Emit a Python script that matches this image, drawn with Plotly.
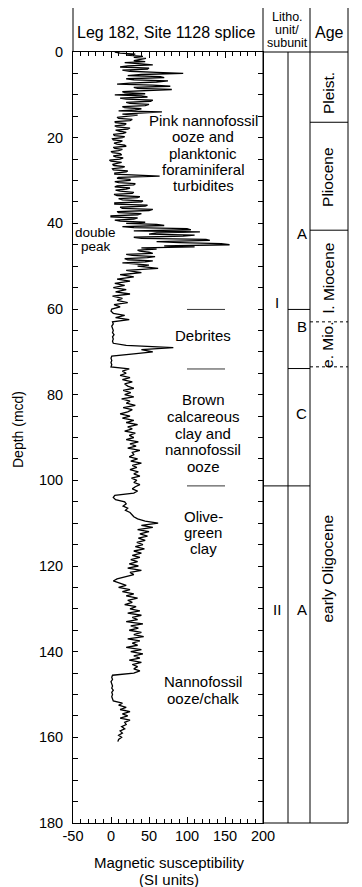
import plotly.graph_objects as go

# ---------------- data ----------------
# upper splice (0-50 mcd) read at 0.25 m, lower splice (50-161 mcd) at 0.5 m
UPPER_STEP = 0.25
LOWER_START = 50.0
LOWER_STEP = 0.5
ms_upper = [
    5, 12, 32, 20, 42, 30, 46, 35, 30, 45,        # 0-2.5
    18, 40, 55, 22, 12, 50, 48, 15, 25, 60,       # 2.5-5
    95, 40, 22, 65, 70, 20, 30, 75, 60, 25,       # 5-7.5
    8, 55, 78, 30, 35, 80, 52, 15, 18, 45,        # 7.5-10
    5, 40, 48, 12, 20, 55, 52, 20, 25, 50,        # 10-12.5
    45, 15, 18, 40, 32, 10, 67, 30, 15, 35,       # 12.5-15
    22, 8, 10, 28, 25, 5, 6, 20, 18, 5,           # 15-17.5
    8, 25, 22, 6, 12, 20, 16, 3, 5, 18,           # 17.5-20
    15, 2, 3, 15, 12, 4, 8, 18, 20, 3,            # 20-22.5
    5, 15, 10, 0, 2, 12, 14, 3, 6, 16,            # 22.5-25
    12, -2, 0, 14, 8, 2, 4, 18, 15, 2,            # 25-27.5
    3, 22, 20, 5, 5, 30, 64, 10, 8, 25,           # 27.5-30
    25, 5, 10, 32, 30, 8, 5, 25, 20, 6,           # 30-32.5
    12, 30, 28, 4, 8, 38, 35, 10, 15, 42,         # 32.5-35
    40, 5, 5, 48, 45, 12, 15, 55, 50, 8,          # 35-37.5
    10, 40, 35, 0, 0, 35, 30, 5, 12, 45,          # 37.5-40
    20, 60, 70, 15, 30, 100, 105, 30, 117, 60,    # 40-42.5
    50, 110, 95, 30, 40, 125, 130, 60, 90, 145,   # 42.5-45
    156, 70, 110, 40, 60, 35, 38, 50, 55, 20,     # 45-47.5
    28, 58, 48, 18, 22, 55, 45, 15, 30, 50,       # 47.5-50
]
ms_lower = [
    35, 62, 20, 40, 12, 30, 8, 25, 5, 18,       # 50-55
    3, 20, 6, 25, 2, 15, 8, 22, 4, 12,          # 55-60
    1, 0, 3, 18, 6, 24, 2, 3, 1, 2,             # 60-65
    3, 2, 4, 2, 3, 2, 3, 20, 82, 40,            # 65-70
    55, 30, 1, 0, 1, 0, 1, 0, 24, 15,           # 70-75
    20, 12, 25, 15, 28, 18, 22, 30, 16, 26,     # 75-80
    18, 30, 14, 25, 20, 32, 16, 28, 22, 12,     # 80-85
    25, 15, 30, 20, 35, 22, 28, 18, 32, 24,     # 85-90
    30, 20, 36, 25, 33, 22, 38, 28, 30, 24,     # 90-95
    35, 26, 40, 28, 34, 25, 36, 30, 38, 27,     # 95-100
    34, 30, 38, 32, 28, 35, 30, 5, 3, 6,        # 100-105
    18, 20, 16, 22, 19, 25, 28, 30, 35, 45,     # 105-110
    62, 40, 55, 35, 50, 38, 48, 36, 45, 34,     # 110-115
    42, 32, 44, 30, 40, 28, 38, 26, 35, 24,     # 115-120
    36, 22, 40, 25, 30, 18, 8, 3, 12, 20,       # 120-125
    10, 25, 15, 30, 20, 35, 22, 28, 18, 33,     # 125-130
    25, 38, 22, 40, 28, 35, 20, 42, 26, 36,     # 130-135
    24, 40, 30, 43, 22, 38, 28, 35, 20, 40,     # 135-140
    26, 42, 30, 38, 24, 40, 28, 35, 30, 38,     # 140-145
    30, 2, 1, 2, 0, 1, 2, 1, 3, 1,              # 145-150
    2, 1, 2, 3, 15, 10, 20, 12, 25, 15,         # 150-155
    22, 12, 25, 18, 20, 14, 18, 12, 15, 10,     # 155-160
    14, 10, 9,                                  # 160-161
]
depth_upper = [i * UPPER_STEP for i in range(len(ms_upper))]
depth_lower = [LOWER_START + i * LOWER_STEP for i in range(len(ms_lower))]

x_tick_vals = [-50, 0, 50, 100, 150, 200]
x_tick_text = ["-50", "0", "50", "100", "150", "200"]

# lithology / age boundaries (mcd)
unit_boundary = 101.3
subunit_boundaries = [60.1, 73.9]
age_boundaries = [16.4, 41.6]
age_dashed = [63.0, 73.5]

desc_lines = [
    ("Pink nannofossil", 15.9), ("ooze and", 19.7), ("planktonic", 23.6),
    ("foraminiferal", 27.4), ("turbidites", 31.2),
    ("Debrites", 66.1),
    ("Brown", 81.2), ("calcareous", 85.1), ("clay and", 89.0),
    ("nannofossil", 92.9), ("ooze", 96.7),
    ("Olive-", 108.5), ("green", 112.2), ("clay", 115.9),
    ("Nannofossil", 147.0), ("ooze/chalk", 150.9),
]
desc_x = 121.5
desc_rules = [60.1, 74.0, 101.3]

unit_labels = [("I", 58.4), ("II", 130.2)]
subunit_labels = [("A", 42.3), ("B", 64.0), ("C", 84.5), ("A", 130.2)]
age_labels = [("Pleist.", 9.6), ("Pliocene", 29.4), ("l. Miocene", 52.8),
              ("e. Mio.", 68.4), ("early Oligocene", 120.6)]

FONT = "Liberation Sans, Arial, Helvetica, sans-serif"

# ---------------- figure ----------------
fig = go.Figure()
fig.add_trace(go.Scatter(
    x=ms_upper + ms_lower, y=depth_upper + depth_lower, mode="lines",
    line=dict(color="black", width=1.3), showlegend=False, hoverinfo="skip"))

# page has an 8px body margin: the figure starts at page (8, 8)
OFF = 8
W, H = 362 - OFF, 887 - OFF
PL, PT, PR, PB = 73, 52, 263, 823   # plot edges in page pixels
L, T = PL - OFF, PT - OFF
R, B = W - (PR - OFF), H - (PB - OFF)
pw, ph = PR - PL, PB - PT


def px(xpix):
    return (xpix - PL) / pw


def py(ypix):
    return 1 - (ypix - PT) / ph


col_litho = px(263)
col_sub = px(288)
col_age = px(310)
col_end = px(348)
top = py(6)

line = dict(color="black", width=1)
shapes = []
# header box and column frame
shapes.append(dict(type="line", xref="paper", yref="paper", x0=0, x1=col_end, y0=top, y1=top, line=line))
shapes.append(dict(type="line", xref="paper", yref="paper", x0=0, x1=0, y0=1, y1=top, line=line))
for xc in (col_litho, col_age, col_end):
    shapes.append(dict(type="line", xref="paper", yref="paper", x0=xc, x1=xc, y0=0, y1=top, line=line))
shapes.append(dict(type="line", xref="paper", yref="paper", x0=col_sub, x1=col_sub, y0=0, y1=1, line=line))
shapes.append(dict(type="line", xref="paper", yref="paper", x0=col_litho, x1=col_end, y0=1, y1=1, line=line))
shapes.append(dict(type="line", xref="paper", yref="paper", x0=col_litho, x1=col_end, y0=0, y1=0, line=line))
# boundaries
shapes.append(dict(type="line", xref="paper", yref="y", x0=col_litho, x1=col_age,
                   y0=unit_boundary, y1=unit_boundary, line=line))
for d in subunit_boundaries:
    shapes.append(dict(type="line", xref="paper", yref="y", x0=col_sub, x1=col_age, y0=d, y1=d, line=line))
for d in age_boundaries:
    shapes.append(dict(type="line", xref="paper", yref="y", x0=col_age, x1=col_end, y0=d, y1=d, line=line))
for d in age_dashed:
    shapes.append(dict(type="line", xref="paper", yref="y", x0=col_age, x1=col_end, y0=d, y1=d,
                       line=dict(color="black", width=1, dash="3px,3px")))
for d in desc_rules:
    shapes.append(dict(type="line", xref="x", yref="y", x0=100, x1=150, y0=d, y1=d,
                       line=dict(color="black", width=0.8)))


def txt(x, y, text, size, xref="paper", yref="paper", angle=0):
    return dict(x=x, y=y, xref=xref, yref=yref, text=text, showarrow=False, textangle=angle,
                xanchor="center", yanchor="middle",
                font=dict(size=size, color="black", family=FONT))


ann = []
for text, d in desc_lines:
    ann.append(txt(desc_x, d, text, 15, "x", "y"))
ann.append(txt(-21, 42.2, "double", 13.5, "x", "y"))
ann.append(txt(-20, 45.5, "peak", 13.5, "x", "y"))
for text, d in unit_labels:
    ann.append(txt(px(276.5), d, text, 15, "paper", "y"))
for text, d in subunit_labels:
    ann.append(txt(px(301.5), d, text, 15, "paper", "y"))
for text, d in age_labels:
    ann.append(txt(px(328), d, text, 15.5, "paper", "y", -90))
# header
ann.append(txt(px(166.7), py(32), "Leg 182, Site 1128 splice", 16))
ann.append(txt(px(329), py(32), "Age", 16))
for text, yy in (("Litho.", 16.7), ("unit/", 30), ("subunit", 42.7)):
    ann.append(txt(px(287), py(yy), text, 12.5))
# axis titles
ann.append(txt(px(169), py(862), "Magnetic susceptibility", 15))
ann.append(txt(px(169), py(879), "(SI units)", 15))
ann.append(txt(px(18), py(430), "Depth (mcd)", 14, angle=-90))

fig.update_layout(
    width=W, height=H, autosize=False,
    margin=dict(l=L, r=R, t=T, b=B, pad=0),
    paper_bgcolor="white", plot_bgcolor="white",
    shapes=shapes, annotations=ann,
    font=dict(family=FONT, color="black", size=14.5),
)
fig.update_xaxes(
    range=[-50, 200], tickmode="array", tickvals=x_tick_vals, ticktext=x_tick_text,
    ticks="inside", ticklen=6, tickcolor="black", tickwidth=1,
    minor=dict(tickmode="linear", tick0=-50, dtick=10, ticks="inside", ticklen=4, tickcolor="black"),
    showline=True, linecolor="black", linewidth=1, mirror="ticks",
    showgrid=False, zeroline=False, tickfont=dict(size=14.5, family=FONT), ticklabelstandoff=0,
)
fig.update_yaxes(
    range=[180, 0], tick0=0, dtick=20,
    ticks="inside", ticklen=5, tickcolor="black", tickwidth=1,
    minor=dict(tick0=0, dtick=5, ticks="inside", ticklen=5, tickcolor="black"),
    showline=True, linecolor="black", linewidth=1, mirror="ticks",
    showgrid=False, zeroline=False, tickfont=dict(size=14.5, family=FONT), ticklabelstandoff=6,
)

fig.write_html("out.html")
